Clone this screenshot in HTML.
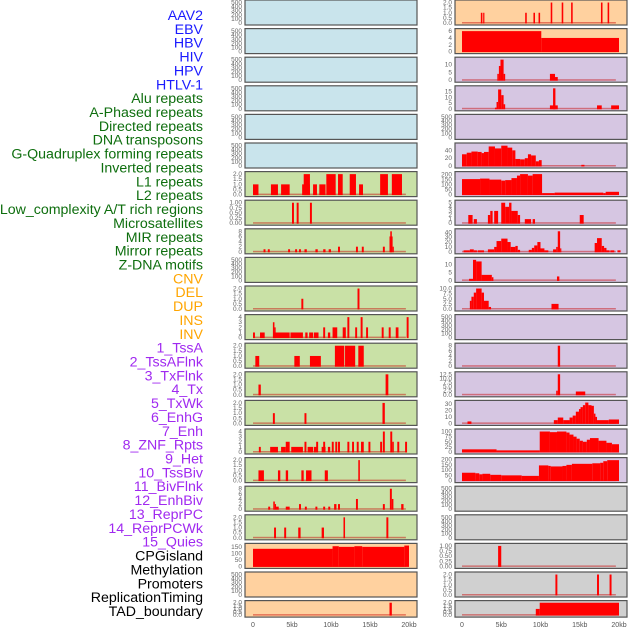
<!DOCTYPE html>
<html><head><meta charset="utf-8"><style>
html,body{margin:0;padding:0;background:#fff;}
svg{display:block;font-family:"Liberation Sans",sans-serif;}
</style></head><body>
<svg id="chart" width="630" height="630" viewBox="0 0 630 630"></svg>
<script>
const trackLabels = ["AAV2","EBV","HBV","HIV","HPV","HTLV-1","Alu repeats","A-Phased repeats","Directed repeats","DNA transposons","G-Quadruplex forming repeats","Inverted repeats","L1 repeats","L2 repeats","Low_complexity A/T rich regions","Microsatellites","MIR repeats","Mirror repeats","Z-DNA motifs","CNV","DEL","DUP","INS","INV","1_TssA","2_TssAFlnk","3_TxFlnk","4_Tx","5_TxWk","6_EnhG","7_Enh","8_ZNF_Rpts","9_Het","10_TssBiv","11_BivFlnk","12_EnhBiv","13_ReprPC","14_ReprPCWk","15_Quies","CPGisland","Methylation","Promoters","ReplicationTiming","TAD_boundary"];
const xTicks = [0,5,10,15,20];
const xTickLabels = ["0","5kb","10kb","15kb","20kb"];
const leftBg = ["b","b","b","b","b","b","g","g","g","g","g","g","g","g","g","g","g","g","g","o","o","o"];
const rightBg = ["o","o","p","p","p","p","p","p","p","p","p","p","p","p","p","p","p","y","y","y","y","y"];
const leftYmax = [525,525,525,525,525,525,2.1,1.05,8.4,525,2.1,4.2,2.1,2.1,2.1,4.2,2.1,8.4,2.1,165,525,2.1];
const leftStep = [100,100,100,100,100,100,0.5,0.25,2,100,0.5,1,0.5,0.5,0.5,1,0.5,2,0.5,50,100,0.5];
const rightYmax = [2.1,6.3,13.6,18.9,525,55,215,5.25,44,13.6,10.5,525,8.4,13.1,33,105,205,525,525,1.05,2.1,2.1];
const rightStep = [0.5,2,5,5,100,20,50,1,10,5,2.5,100,2,2.5,10,25,50,100,100,0.25,0.5,0.5];
const leftSegs = [[],[],[],[],[],[],
[[0,0.7,1],[2.3,3.2,1],[3.6,4.7,1],[6.3,7.3,1],[6.5,7.3,2],[7.7,8.2,1],[8.5,9.3,1],[9.4,10.6,2],[10.9,11.5,2],[12.4,13.2,2],[13.6,14.1,1],[16.3,17.3,2],[17.8,19.1,2]],
[[5.0,5.25,1],[5.6,5.85,1],[7.3,7.55,1]],
[[1.35,1.6,1],[1.9,2.15,1],[4.5,4.75,1],[5.4,5.65,1],[5.9,6.15,1],[6.6,6.9,1],[8.0,8.3,1],[9.0,9.3,1],[9.7,10.0,1],[10.9,11.15,2],[13.2,13.45,2],[13.95,14.2,2],[16.65,16.9,2],[17.5,17.9,6],[17.6,17.8,8],[17.9,18.05,2]],
[],
[[6.2,6.45,1],[13.4,13.65,2]],
[[0,0.25,1],[0.9,1.5,1],[2.6,4.7,1],[2.55,2.75,3],[2.75,2.9,2],[4.8,6.4,1],[6.7,7.0,1],[7.2,7.7,1],[7.8,8.4,1],[9.0,9.25,2],[9.6,9.9,1],[10.2,10.8,2],[11.5,11.9,2],[12.1,12.35,4],[13.1,13.35,2],[13.8,14.05,4],[14.5,14.75,2],[16.5,16.75,2],[17.4,17.65,2],[18.3,18.65,2],[19.7,19.95,4]],
[[0.3,0.8,1],[5.3,6.0,1],[7.3,8.7,1],[10.5,11.7,2],[11.8,13.1,2],[13.5,14.2,2]],
[[0.7,1.0,1],[17.0,17.35,2]],
[[2.55,2.8,1],[6.6,6.85,1],[16.6,16.9,2]],
[[0.75,1.0,1],[2.2,3.2,1],[3.6,4.2,1],[4.2,4.7,2],[4.9,6.4,1],[6.6,6.85,2],[7.0,7.7,1],[7.8,8.2,1],[8.1,8.35,2],[8.8,9.3,1],[9.0,9.25,2],[9.6,9.9,1],[10.1,10.35,2],[10.55,10.8,2],[10.9,11.15,2],[12.1,12.35,2],[12.7,12.95,2],[13.3,13.55,2],[13.85,14.2,2],[14.8,15.05,2],[16.3,16.55,2],[16.65,16.9,4],[17.6,17.85,4],[17.85,18.05,2],[18.5,18.75,2],[19.5,19.75,2]],
[[0.7,1.4,1],[3.2,3.5,1],[4.2,4.5,1],[6.2,6.5,1],[6.8,7.5,1],[9.2,9.6,1],[13.5,13.7,2]],
[[1.95,2.2,1],[2.6,2.8,3],[2.8,2.95,2],[2.95,3.3,1],[4.2,4.7,1],[5.9,6.15,2],[6.65,6.9,1],[8.0,8.25,1],[9.0,9.25,1],[9.65,9.9,1],[10.4,10.7,2],[10.9,11.15,2],[13.2,13.45,4],[16.65,16.9,2],[17.55,17.8,8],[17.8,18.0,4],[19.0,19.3,2]],
[[2.7,2.95,1],[4.0,4.25,1],[5.8,6.1,1],[8.8,9.1,1],[11.6,11.8,2],[17.1,17.35,2]],
[[0,10.2,135],[10.2,11,155],[11,13,150],[13,14,155],[14,19.4,150],[19.4,20,160]],
[],
[[17.5,17.8,2]]];
const rightSegs = [
[[2.4,2.6,1],[2.7,2.85,1],[8.05,8.25,1],[9.1,9.3,1],[9.75,9.95,1],[11.3,11.5,2],[12.7,12.9,2],[13.9,14.1,2],[17.7,17.9,2],[18.55,18.75,2]],
[[0,10.1,6],[10.1,20,4]],
[[4.5,4.7,4],[4.7,4.9,9],[4.9,5.3,13],[5.3,5.5,4],[11.2,11.85,4],[11.85,12.2,2]],
[[4.2,4.4,1],[4.4,4.6,6],[4.6,5.0,17],[5.0,5.3,12],[5.3,5.5,4],[11.2,12.2,3],[11.6,11.9,18],[17.2,17.8,3],[19.0,20.0,3]],
[],
[[0,0.6,30],[0.6,1.2,34],[1.2,2.0,37],[2.0,2.5,36],[2.5,2.8,33],[2.8,3.4,36],[3.4,4.2,50],[4.2,5.0,45],[5.0,5.8,52],[5.8,6.4,47],[6.4,6.8,40],[6.8,7.4,18],[7.4,8.0,17],[8.0,8.4,20],[8.4,8.8,30],[8.8,9.4,27],[9.4,9.8,12],[9.8,10.15,15],[15.2,15.6,3]],
[[0,2.3,155],[2.3,3.5,160],[3.5,5,150],[5,5.5,140],[5.5,6.3,145],[6.3,7,165],[7,7.4,190],[7.4,8.4,205],[8.4,9,190],[9,10.2,205],[10.2,11.8,15],[11.8,18,20],[18,18.3,15],[18.3,20,28]],
[[0.8,1.35,2],[1.5,1.9,1],[3.3,3.6,2],[3.6,3.9,3],[4.1,4.6,3],[5.0,5.5,5],[5.5,6.0,4],[6.0,6.3,5],[6.3,7.1,3],[7.1,7.4,2],[8.0,8.8,1],[9.0,9.3,1],[15.0,15.5,2]],
[[0.2,1,3],[1,1.5,5],[1.5,1.9,3],[2.0,2.8,3],[3.3,4.1,5],[4.1,4.4,10],[4.4,5.0,22],[5.0,5.8,27],[5.8,6.2,20],[6.2,6.8,10],[6.8,7.1,12],[7.1,7.4,4],[8.5,8.9,4],[8.9,9.2,8],[9.2,9.6,13],[9.6,10.0,20],[10.0,10.5,7],[10.5,11,3],[11.6,12,5],[12,12.2,10],[12.2,12.5,42],[12.5,12.6,7],[16.9,17.2,18],[17.2,17.8,28],[17.8,18.1,12],[18.1,18.4,8],[18.4,18.8,3],[18.9,19.4,3],[19.8,20.2,3]],
[[0.9,1.4,1],[1.4,1.8,13],[1.8,2.5,12],[2.5,3.8,3.5],[3.8,4.0,2],[12.1,12.4,2.5]],
[[1.0,1.2,4],[1.2,1.5,6],[1.5,1.8,8],[1.8,2.5,10],[2.5,2.8,8],[2.8,3.4,4],[3.4,3.7,1],[11.4,12.3,2.5]],
[],
[[12.2,12.5,8]],
[[12.0,12.2,2.5],[12.2,12.5,12.5],[14.5,15.7,2]],
[[0.7,1.2,3],[11.7,12.2,5],[12.2,12.9,9],[12.9,13.7,5],[13.7,14.1,9],[14.1,14.5,12],[14.5,14.9,18],[14.9,15.1,22],[15.1,15.4,25],[15.4,15.7,28],[15.7,16.1,32],[16.1,16.5,28],[16.5,16.8,27],[16.8,17.0,15],[17.0,17.2,10],[17.2,18.7,5],[18.7,20,6]],
[[0,4.4,13],[4.4,9.9,8],[9.9,11.2,100],[11.2,12.1,97],[12.1,13.3,100],[13.3,13.7,95],[13.7,14.2,85],[14.2,14.6,75],[14.6,15.0,65],[15.0,15.4,55],[15.4,15.9,50],[15.9,16.3,60],[16.3,17.4,68],[17.4,18.4,55],[18.4,19.1,45],[19.1,20,38]],
[[0,1.7,75],[1.7,2.2,70],[2.2,2.6,60],[2.6,3.6,65],[3.6,5.0,55],[5.0,7.6,50],[7.6,9.8,45],[9.8,11,145],[11.0,11.3,140],[11.3,12.8,135],[12.8,13.3,140],[13.3,14.0,150],[14.0,16.6,160],[16.6,17.6,165],[17.6,18.0,170],[18.0,18.5,185],[18.5,20,195]],
[],[],
[[4.6,5.0,1]],
[[11.9,12.15,2],[17.2,17.45,2],[18.8,19.05,2]],
[[9.4,9.9,1],[9.9,20,2]]];

const NS="http://www.w3.org/2000/svg";
const svg=document.getElementById('chart');
const bgColors={b:"#c9e4ec",g:"#c9e1a6",o:"#ffd19f",p:"#d6c6e2",y:"#d0d0d0"};
function mk(tag,attrs){const e=document.createElementNS(NS,tag);for(const k in attrs)e.setAttribute(k,attrs[k]);svg.appendChild(e);return e;}
function fmt(v,step){let d=0;if(step<1)d=(String(step).split('.')[1]||'').length;else if(step%1)d=1;if(step===0.5||step===2.5)d=1;return v.toFixed(d);}

const labelColor=i=>i<6?"#1a1aff":i<19?"#0e6e0e":i<24?"#ffa500":i<39?"#a029f0":"#000";
trackLabels.forEach((t,i)=>{
  const e=mk('text',{x:203,y:20+i*13.86,'text-anchor':'end','font-size':14.2,fill:labelColor(i)});
  e.textContent=t;
  
  
});

function panel(col,row,ymax,step,segs,bg){
  const x0=col===0?245:455, w=172;
  const top=row*28.6, h=row===21?16.5:25;
  const xs=col===0?(k=>253+k*7.8):(k=>462+k*7.85);
  const yb=top+h-2, yt=top+1.5;
  const ys=v=>yb-(v/ymax)*(yb-yt);
  const r=mk('rect',{x:x0,y:top,width:w,height:h,fill:bgColors[bg],stroke:"#555",'stroke-width':1.2});
  
  
  for(let v=0;v<=ymax+1e-9;v+=step){
    const t=mk('text',{x:x0-3,y:ys(v)+2,'text-anchor':'end','font-size':6.5,fill:"#666"});
    t.textContent=fmt(v,step);
    
    
  }
  if(segs.length){
    const base=mk('rect',{x:xs(0),y:yb-1,width:xs(19.6)-xs(0),height:1.5,fill:"rgba(200,0,0,0.45)"});
    
    
  }
  segs.forEach(s=>{
    const b=mk('rect',{x:xs(s[0]),y:ys(s[2]),width:Math.max(1.2,xs(s[1])-xs(s[0])),height:yb-ys(s[2])+0.5,fill:"#ff0000"});
    
    
  });
}
for(let r=0;r<22;r++){
  panel(0,r,leftYmax[r],leftStep[r],leftSegs[r],leftBg[r]);
  panel(1,r,rightYmax[r],rightStep[r],rightSegs[r],rightBg[r]);
}
[0,1].forEach(col=>{
  const xs=col===0?(k=>253+k*7.8):(k=>462+k*7.85);
  xTicks.forEach((k,i)=>{
    const t=mk('text',{x:xs(k),y:627,'text-anchor':'middle','font-size':7,fill:"#555"});
    t.textContent=xTickLabels[i];
    
    
  });
});
</script>
</body></html>
